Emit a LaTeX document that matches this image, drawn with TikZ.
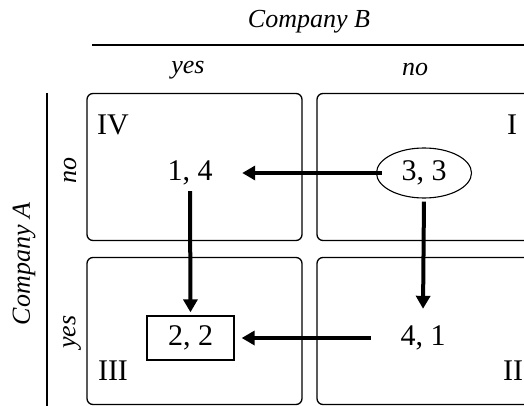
\documentclass[tikz,border=0pt]{standalone}
\usepackage{fontspec}
\setmainfont{Liberation Serif}
\usepackage{tikz}
\usetikzlibrary{shapes.geometric,arrows.meta,positioning}

\begin{document}
\begin{tikzpicture}[x=1pt, y=-1pt,
  cell/.style={draw, line width=1.3pt, rounded corners=6pt, minimum width=215pt, minimum height=147pt},
  pay/.style={font=\fontsize{30}{34}\selectfont, inner sep=0pt, minimum width=104pt, minimum height=36pt},
  quad/.style={font=\fontsize{30}{34}\selectfont, inner sep=0pt},
  lab/.style={font=\fontsize{26}{30}\selectfont\itshape, inner sep=0pt},
  arr/.style={-{Triangle[length=13pt, width=14pt]}, line width=4pt}
]
\useasboundingbox (0,0) rectangle (524,406);
\clip (0,0) rectangle (524,406);

% Players and strategies
\node[lab] (compB) at (309,22) {Company B};
\draw[line width=1.6pt] (92,45) -- (524,45);
\node[lab] (Byes) at (188,70) {yes};
\node[lab] (Bno) at (415,70) {no};
\node[lab, rotate=90] (compA) at (24,264) {Company A};
\draw[line width=1.6pt] (47,93) -- (47,406);
\node[lab, rotate=90] (Ano) at (70,170) {no};
\node[lab, rotate=90] (Ayes) at (72,332) {yes};

% Quadrants
\node[cell] (cIV) at (194.5,167) {};
\node[cell] (cI) at (424.5,167) {};
\node[cell] (cIII) at (194.5,331) {};
\node[cell] (cII) at (424.5,331) {};
\node[quad] (nIV) at (113,125) {IV};
\node[quad] (nI) at (512,125) {I};
\node[quad] (nIII) at (113,371) {III};
\node[quad] (nII) at (513,371) {II};

% Payoffs
\node[pay] (p14) at (190,173) {1, 4};
\node[pay, draw, ellipse, line width=1.1pt, minimum width=95pt, minimum height=50pt] (p33) at (424,173) {3, 3};
\node[pay, draw, rectangle, line width=1.3pt, minimum width=87pt, minimum height=44pt] (p22) at (190.5,338) {2, 2};
\node[pay, minimum height=52pt] (p41) at (423,338) {4, 1};

% Best responses
\draw[arr, shorten <=-6pt] (p33.west) -- (p14.east);
\draw[arr, shorten <=3pt, shorten >=3pt] (p33.south) -- (p41.north);
\draw[arr, shorten >=3pt] (p14.south) -- (p22.north);
\draw[arr, shorten >=7pt] (p41.west) -- (p22.east);

\end{tikzpicture}
\end{document}
